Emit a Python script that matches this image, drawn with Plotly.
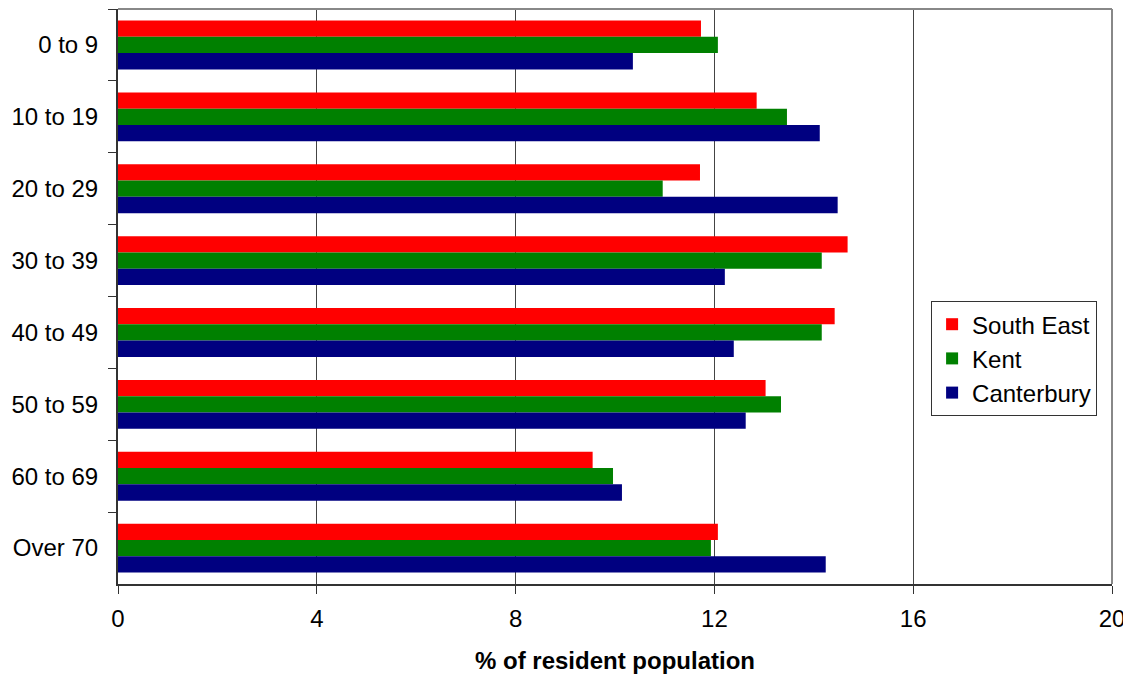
import plotly.graph_objects as go

categories = ["0 to 9", "10 to 19", "20 to 29", "30 to 39", "40 to 49", "50 to 59", "60 to 69", "Over 70"]
south_east = [11.73, 12.85, 11.71, 14.68, 14.42, 13.03, 9.55, 12.07]
kent = [12.07, 13.46, 10.96, 14.16, 14.16, 13.34, 9.96, 11.93]
canterbury = [10.36, 14.12, 14.48, 12.21, 12.39, 12.63, 10.14, 14.24]
x_ticks = [0, 4, 8, 12, 16, 20]

FONT = "Liberation Sans, Arial, sans-serif"

fig = go.Figure()
for name, vals, col in [("South East", south_east, "#FF0000"),
                        ("Kent", kent, "#008000"),
                        ("Canterbury", canterbury, "#000080")]:
    fig.add_trace(go.Bar(y=categories, x=vals, name=name, orientation="h",
                         marker=dict(color=col, line=dict(width=0))))

fig.update_layout(
    width=1123, height=669,
    paper_bgcolor="white", plot_bgcolor="white",
    margin=dict(l=110, r=19, t=1, b=93, autoexpand=False),
    barmode="group", bargap=0.32, bargroupgap=0,
    font=dict(family=FONT, size=24, color="black"),
    legend=dict(x=0.818, y=0.492, xanchor="left", yanchor="top",
                bordercolor="#333333", borderwidth=1, bgcolor="white",
                font=dict(size=24), traceorder="normal", tracegroupgap=0),
    showlegend=True,
)
fig.update_xaxes(range=[0, 20], tickvals=x_ticks, ticktext=[str(v) for v in x_ticks],
                 showgrid=True, gridcolor="#444444", gridwidth=1,
                 showline=True, linecolor="#333333", linewidth=2,
                 ticks="outside", ticklen=8, tickcolor="#333333",
                 tickfont=dict(size=24), zeroline=False, automargin=False,
                 ticklabelstandoff=4,
                 title=dict(text="<b>% of resident population</b>", font=dict(size=24), standoff=21))
fig.update_yaxes(autorange="reversed", showgrid=False,
                 showline=True, linecolor="#333333", linewidth=2,
                 ticks="outside", ticklen=8, tickcolor="#333333", tickson="boundaries",
                 tickfont=dict(size=24), ticklabelstandoff=13, automargin=False)
# gray frame on top and right
fig.add_shape(type="line", xref="paper", yref="paper", x0=0, x1=1, y0=1, y1=1,
              line=dict(color="#888888", width=2))
fig.add_shape(type="line", xref="paper", yref="paper", x0=1, x1=1, y0=0, y1=1,
              line=dict(color="#888888", width=2))

fig.write_html("out.html")
